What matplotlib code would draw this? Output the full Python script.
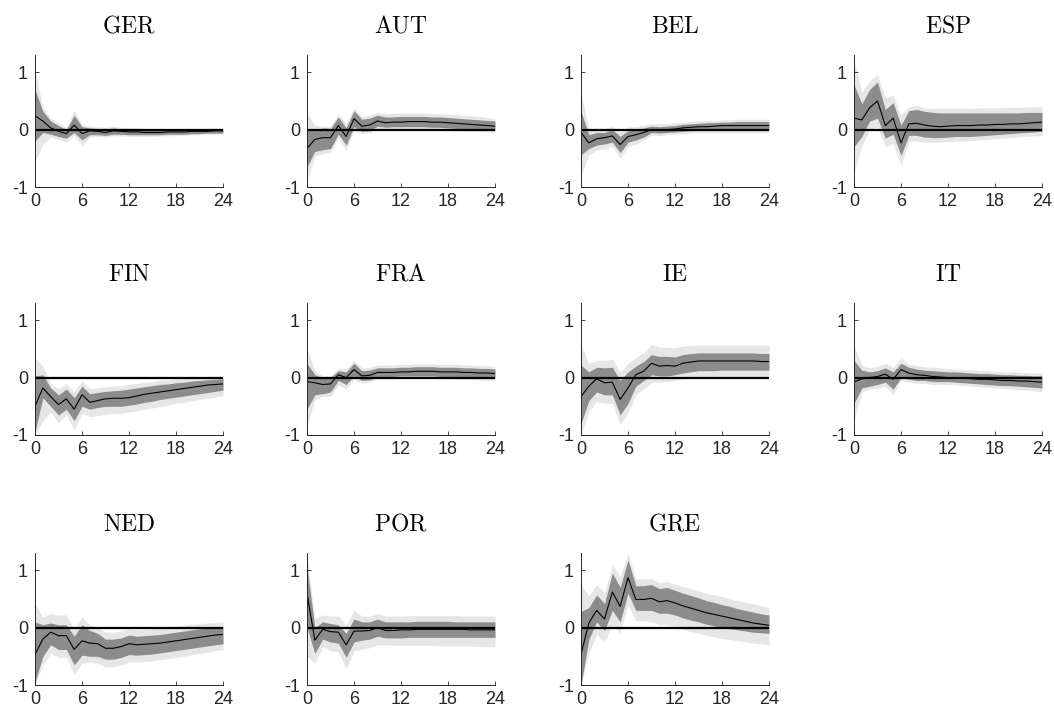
import numpy as np
import matplotlib
matplotlib.use("Agg")
import matplotlib.pyplot as plt

plt.rcParams['mathtext.fontset'] = 'cm'
plt.rcParams['font.family'] = ['Liberation Sans', 'DejaVu Sans']
plt.rcParams['axes.unicode_minus'] = False

horizon = list(range(25))
countries = ["GER", "AUT", "BEL", "ESP", "FIN", "FRA", "IE", "IT", "NED", "POR", "GRE"]

# median responses
GER_med = [0.24, 0.15, 0.03, -0.03, -0.07, 0.08, -0.07, -0.02, -0.03, -0.05, -0.02, -0.03, -0.04,
           -0.04, -0.05, -0.05, -0.05, -0.04, -0.04, -0.04, -0.03, -0.03, -0.03, -0.02, -0.02]
GER_lo68 = [-0.20, -0.05, -0.08, -0.12, -0.15, -0.05, -0.18, -0.09, -0.09, -0.10, -0.08, -0.08, -0.09,
            -0.09, -0.09, -0.09, -0.09, -0.08, -0.08, -0.08, -0.07, -0.07, -0.06, -0.06, -0.06]
GER_hi68 = [0.70, 0.32, 0.15, 0.07, 0.00, 0.25, 0.05, 0.03, 0.02, 0.00, 0.03, 0.01, 0.00,
            0.00, -0.01, -0.01, -0.01, -0.01, 0.00, 0.00, 0.00, 0.00, 0.00, 0.01, 0.01]
GER_lo90 = [-0.56, -0.26, -0.13, -0.17, -0.22, -0.10, -0.28, -0.13, -0.12, -0.13, -0.11, -0.11, -0.12,
            -0.12, -0.12, -0.12, -0.11, -0.11, -0.10, -0.10, -0.09, -0.09, -0.08, -0.08, -0.08]
GER_hi90 = [1.05, 0.38, 0.20, 0.12, 0.04, 0.33, 0.09, 0.06, 0.05, 0.04, 0.06, 0.04, 0.03,
            0.03, 0.02, 0.02, 0.02, 0.02, 0.02, 0.02, 0.02, 0.02, 0.02, 0.03, 0.03]

AUT_med = [-0.33, -0.17, -0.14, -0.14, 0.07, -0.12, 0.19, 0.06, 0.08, 0.15, 0.12, 0.13, 0.13,
           0.14, 0.14, 0.14, 0.13, 0.13, 0.12, 0.11, 0.10, 0.09, 0.08, 0.07, 0.06]
AUT_lo68 = [-0.65, -0.38, -0.35, -0.33, -0.08, -0.27, 0.05, -0.03, -0.02, 0.06, 0.04, 0.05, 0.05,
            0.05, 0.05, 0.05, 0.04, 0.04, 0.03, 0.02, 0.02, 0.01, 0.00, 0.00, -0.01]
AUT_hi68 = [0.00, -0.02, 0.03, 0.02, 0.22, 0.03, 0.33, 0.18, 0.20, 0.25, 0.22, 0.22, 0.23,
            0.23, 0.23, 0.23, 0.22, 0.22, 0.21, 0.20, 0.19, 0.18, 0.17, 0.16, 0.15]
AUT_lo90 = [-0.90, -0.46, -0.42, -0.40, -0.15, -0.35, -0.02, -0.07, -0.05, 0.02, 0.00, 0.00, 0.00,
            0.00, 0.00, 0.00, -0.01, -0.01, -0.02, -0.02, -0.03, -0.03, -0.04, -0.04, -0.05]
AUT_hi90 = [0.28, 0.08, 0.06, 0.06, 0.28, 0.10, 0.38, 0.22, 0.25, 0.30, 0.28, 0.28, 0.29,
            0.29, 0.29, 0.29, 0.28, 0.28, 0.27, 0.26, 0.25, 0.24, 0.23, 0.21, 0.20]

BEL_med = [-0.05, -0.23, -0.16, -0.14, -0.11, -0.26, -0.12, -0.09, -0.05, 0.00, -0.01, 0.00, 0.01,
           0.03, 0.04, 0.05, 0.05, 0.06, 0.07, 0.07, 0.07, 0.07, 0.07, 0.07, 0.07]
BEL_lo68 = [-0.44, -0.33, -0.27, -0.25, -0.22, -0.40, -0.22, -0.18, -0.13, -0.05, -0.06, -0.05, -0.04,
            -0.03, -0.02, -0.01, -0.01, 0.00, 0.00, 0.00, 0.00, 0.00, 0.00, 0.00, 0.00]
BEL_hi68 = [0.32, -0.09, -0.05, -0.05, 0.00, -0.12, -0.02, 0.00, 0.03, 0.06, 0.05, 0.06, 0.07,
            0.09, 0.10, 0.11, 0.12, 0.12, 0.13, 0.13, 0.14, 0.14, 0.14, 0.14, 0.14]
BEL_lo90 = [-0.80, -0.45, -0.35, -0.33, -0.30, -0.50, -0.30, -0.25, -0.18, -0.10, -0.10, -0.09, -0.08,
            -0.07, -0.06, -0.05, -0.05, -0.05, -0.05, -0.05, -0.05, -0.05, -0.05, -0.05, -0.05]
BEL_hi90 = [0.65, 0.00, 0.02, 0.02, 0.05, -0.05, 0.05, 0.05, 0.08, 0.10, 0.10, 0.10, 0.11,
            0.13, 0.14, 0.15, 0.16, 0.16, 0.17, 0.17, 0.18, 0.18, 0.18, 0.18, 0.18]

ESP_med = [0.20, 0.17, 0.38, 0.50, 0.07, 0.20, -0.23, 0.10, 0.11, 0.08, 0.06, 0.05, 0.06,
           0.07, 0.07, 0.07, 0.08, 0.08, 0.09, 0.09, 0.10, 0.10, 0.11, 0.12, 0.13]
ESP_lo68 = [-0.30, -0.12, 0.15, 0.20, -0.15, -0.08, -0.45, -0.10, -0.10, -0.13, -0.14, -0.14, -0.13,
            -0.12, -0.12, -0.12, -0.11, -0.10, -0.09, -0.08, -0.07, -0.06, -0.05, -0.04, -0.03]
ESP_hi68 = [0.78, 0.45, 0.70, 0.83, 0.35, 0.47, 0.08, 0.33, 0.35, 0.32, 0.30, 0.29, 0.29,
            0.29, 0.29, 0.29, 0.29, 0.29, 0.29, 0.29, 0.29, 0.29, 0.30, 0.30, 0.30]
ESP_lo90 = [-0.75, -0.28, 0.00, 0.05, -0.30, -0.25, -0.62, -0.20, -0.20, -0.22, -0.22, -0.22, -0.21,
            -0.20, -0.20, -0.19, -0.18, -0.17, -0.16, -0.15, -0.14, -0.13, -0.12, -0.11, -0.10]
ESP_hi90 = [1.20, 0.65, 0.85, 0.95, 0.55, 0.60, 0.25, 0.40, 0.42, 0.38, 0.37, 0.37, 0.37,
            0.37, 0.37, 0.37, 0.38, 0.38, 0.38, 0.38, 0.39, 0.39, 0.39, 0.40, 0.40]

FIN_med = [-0.50, -0.18, -0.33, -0.47, -0.37, -0.55, -0.30, -0.43, -0.40, -0.37, -0.36, -0.36, -0.35,
           -0.32, -0.29, -0.27, -0.25, -0.23, -0.21, -0.19, -0.17, -0.15, -0.13, -0.12, -0.11]
FIN_lo68 = [-0.95, -0.35, -0.50, -0.65, -0.55, -0.75, -0.50, -0.55, -0.52, -0.50, -0.50, -0.50, -0.48,
            -0.46, -0.43, -0.41, -0.38, -0.36, -0.34, -0.32, -0.30, -0.28, -0.26, -0.24, -0.22]
FIN_hi68 = [0.03, 0.05, -0.18, -0.30, -0.20, -0.35, -0.15, -0.28, -0.26, -0.24, -0.23, -0.22, -0.20,
            -0.18, -0.16, -0.14, -0.12, -0.11, -0.09, -0.08, -0.06, -0.05, -0.04, -0.03, -0.02]
FIN_lo90 = [-1.00, -0.75, -0.60, -0.78, -0.65, -0.92, -0.62, -0.68, -0.66, -0.64, -0.63, -0.62, -0.60,
            -0.58, -0.55, -0.53, -0.50, -0.48, -0.45, -0.43, -0.41, -0.38, -0.36, -0.34, -0.32]
FIN_hi90 = [0.35, 0.20, -0.10, -0.20, -0.10, -0.25, -0.05, -0.20, -0.18, -0.16, -0.15, -0.14, -0.12,
            -0.10, -0.08, -0.07, -0.05, -0.04, -0.02, -0.01, 0.00, 0.01, 0.02, 0.02, 0.03]

FRA_med = [-0.07, -0.09, -0.12, -0.11, 0.05, 0.00, 0.14, 0.03, 0.04, 0.09, 0.09, 0.09, 0.10,
           0.10, 0.11, 0.11, 0.11, 0.10, 0.10, 0.10, 0.09, 0.09, 0.08, 0.08, 0.07]
FRA_lo68 = [-0.55, -0.30, -0.28, -0.25, -0.05, -0.12, 0.03, -0.05, -0.04, 0.02, 0.02, 0.02, 0.03,
            0.03, 0.03, 0.03, 0.03, 0.02, 0.02, 0.02, 0.01, 0.01, 0.00, 0.00, 0.00]
FRA_hi68 = [0.25, 0.05, 0.00, 0.00, 0.12, 0.10, 0.25, 0.12, 0.13, 0.17, 0.17, 0.17, 0.18,
            0.18, 0.19, 0.19, 0.19, 0.18, 0.18, 0.18, 0.17, 0.17, 0.16, 0.16, 0.15]
FRA_lo90 = [-0.85, -0.38, -0.33, -0.33, -0.12, -0.20, -0.03, -0.10, -0.08, -0.02, -0.02, -0.02, -0.01,
            -0.01, -0.01, -0.01, -0.01, -0.02, -0.02, -0.03, -0.03, -0.04, -0.04, -0.05, -0.05]
FRA_hi90 = [0.50, 0.12, 0.03, 0.03, 0.17, 0.15, 0.30, 0.17, 0.18, 0.22, 0.22, 0.22, 0.23,
            0.23, 0.24, 0.24, 0.24, 0.23, 0.23, 0.23, 0.22, 0.22, 0.21, 0.21, 0.20]

IE_med = [-0.33, -0.15, -0.02, -0.09, -0.08, -0.38, -0.18, 0.05, 0.11, 0.25, 0.20, 0.21, 0.20,
          0.25, 0.27, 0.29, 0.29, 0.29, 0.29, 0.29, 0.29, 0.29, 0.29, 0.28, 0.28]
IE_lo68 = [-0.80, -0.40, -0.25, -0.30, -0.30, -0.65, -0.45, -0.15, -0.05, 0.05, 0.03, 0.03, 0.05,
           0.08, 0.10, 0.12, 0.12, 0.12, 0.13, 0.13, 0.13, 0.13, 0.13, 0.13, 0.13]
IE_hi68 = [0.22, 0.10, 0.18, 0.17, 0.18, -0.05, 0.10, 0.20, 0.28, 0.40, 0.37, 0.37, 0.36,
           0.40, 0.42, 0.43, 0.43, 0.43, 0.43, 0.43, 0.43, 0.43, 0.43, 0.42, 0.42]
IE_lo90 = [-1.00, -0.60, -0.42, -0.45, -0.45, -0.82, -0.62, -0.30, -0.20, -0.08, -0.08, -0.07, -0.05,
           -0.02, 0.00, 0.02, 0.02, 0.02, 0.02, 0.02, 0.02, 0.02, 0.02, 0.02, 0.02]
IE_hi90 = [0.57, 0.25, 0.30, 0.30, 0.32, 0.10, 0.25, 0.35, 0.43, 0.58, 0.53, 0.53, 0.52,
           0.55, 0.56, 0.57, 0.57, 0.57, 0.57, 0.57, 0.57, 0.57, 0.57, 0.57, 0.57]

IT_med = [-0.08, -0.02, 0.00, 0.02, 0.06, -0.03, 0.14, 0.08, 0.05, 0.04, 0.02, 0.01, 0.00,
          0.00, -0.01, -0.02, -0.03, -0.03, -0.04, -0.05, -0.05, -0.06, -0.06, -0.07, -0.08]
IT_lo68 = [-0.45, -0.18, -0.15, -0.12, -0.08, -0.20, 0.00, -0.03, -0.05, -0.05, -0.07, -0.07, -0.07,
           -0.08, -0.09, -0.10, -0.11, -0.12, -0.13, -0.14, -0.14, -0.15, -0.16, -0.17, -0.18]
IT_hi68 = [0.30, 0.13, 0.10, 0.12, 0.17, 0.10, 0.25, 0.18, 0.15, 0.13, 0.12, 0.11, 0.10,
           0.10, 0.09, 0.08, 0.07, 0.07, 0.06, 0.05, 0.05, 0.04, 0.04, 0.03, 0.03]
IT_lo90 = [-0.75, -0.25, -0.20, -0.18, -0.15, -0.30, -0.05, -0.08, -0.10, -0.10, -0.12, -0.12, -0.12,
           -0.13, -0.14, -0.15, -0.16, -0.17, -0.18, -0.19, -0.20, -0.21, -0.22, -0.23, -0.25]
IT_hi90 = [0.55, 0.22, 0.17, 0.20, 0.25, 0.18, 0.35, 0.23, 0.21, 0.19, 0.18, 0.17, 0.16,
           0.15, 0.14, 0.13, 0.12, 0.12, 0.11, 0.10, 0.10, 0.09, 0.09, 0.08, 0.08]

NED_med = [-0.47, -0.20, -0.08, -0.14, -0.14, -0.38, -0.23, -0.27, -0.28, -0.36, -0.36, -0.33, -0.28,
           -0.30, -0.29, -0.28, -0.27, -0.25, -0.23, -0.21, -0.19, -0.17, -0.15, -0.13, -0.12]
NED_lo68 = [-0.95, -0.50, -0.30, -0.38, -0.38, -0.65, -0.48, -0.50, -0.50, -0.55, -0.55, -0.52, -0.47,
            -0.48, -0.47, -0.46, -0.44, -0.42, -0.40, -0.38, -0.36, -0.34, -0.32, -0.30, -0.28]
NED_hi68 = [0.10, 0.05, 0.08, 0.05, 0.05, -0.15, 0.05, -0.05, -0.10, -0.20, -0.20, -0.18, -0.13,
            -0.15, -0.14, -0.13, -0.12, -0.10, -0.08, -0.06, -0.04, -0.02, -0.01, 0.01, 0.02]
NED_lo90 = [-1.00, -0.65, -0.45, -0.52, -0.52, -0.82, -0.62, -0.60, -0.62, -0.68, -0.68, -0.65, -0.60,
            -0.60, -0.59, -0.58, -0.56, -0.54, -0.52, -0.50, -0.47, -0.45, -0.43, -0.40, -0.38]
NED_hi90 = [0.42, 0.18, 0.25, 0.22, 0.22, -0.02, 0.18, 0.05, 0.00, -0.08, -0.08, -0.06, -0.02,
            -0.04, -0.03, -0.02, -0.01, 0.01, 0.03, 0.04, 0.06, 0.07, 0.08, 0.09, 0.10]

POR_med = [0.60, -0.22, -0.03, -0.07, -0.08, -0.30, -0.06, -0.06, -0.05, 0.00, -0.05, -0.05, -0.04,
           -0.04, -0.03, -0.03, -0.03, -0.03, -0.03, -0.03, -0.03, -0.04, -0.04, -0.04, -0.04]
POR_lo68 = [0.00, -0.45, -0.20, -0.25, -0.27, -0.52, -0.25, -0.22, -0.20, -0.15, -0.18, -0.18, -0.18,
            -0.17, -0.17, -0.17, -0.17, -0.17, -0.17, -0.17, -0.17, -0.17, -0.17, -0.17, -0.17]
POR_hi68 = [1.05, 0.00, 0.10, 0.07, 0.05, -0.10, 0.15, 0.10, 0.10, 0.15, 0.10, 0.10, 0.10,
            0.10, 0.11, 0.11, 0.11, 0.11, 0.11, 0.10, 0.10, 0.10, 0.10, 0.10, 0.10]
POR_lo90 = [-0.50, -0.62, -0.33, -0.40, -0.42, -0.72, -0.40, -0.38, -0.35, -0.30, -0.30, -0.31, -0.31,
            -0.31, -0.31, -0.31, -0.31, -0.32, -0.32, -0.32, -0.32, -0.32, -0.33, -0.33, -0.33]
POR_hi90 = [1.30, 0.15, 0.22, 0.20, 0.20, 0.05, 0.30, 0.20, 0.20, 0.25, 0.20, 0.20, 0.20,
            0.21, 0.21, 0.21, 0.21, 0.21, 0.21, 0.21, 0.20, 0.20, 0.20, 0.20, 0.20]

GRE_med = [-0.47, 0.08, 0.30, 0.15, 0.62, 0.37, 0.87, 0.49, 0.49, 0.51, 0.45, 0.47, 0.43,
           0.38, 0.34, 0.30, 0.26, 0.23, 0.20, 0.17, 0.14, 0.11, 0.08, 0.06, 0.04]
GRE_lo68 = [-1.00, -0.20, 0.10, -0.05, 0.30, 0.10, 0.60, 0.30, 0.30, 0.30, 0.25, 0.25, 0.22,
            0.17, 0.13, 0.10, 0.06, 0.03, 0.00, -0.02, -0.04, -0.06, -0.08, -0.09, -0.10]
GRE_hi68 = [0.28, 0.35, 0.57, 0.42, 0.95, 0.70, 1.18, 0.73, 0.73, 0.75, 0.68, 0.70, 0.65,
            0.60, 0.56, 0.52, 0.47, 0.44, 0.40, 0.37, 0.33, 0.30, 0.27, 0.24, 0.22]
GRE_lo90 = [-1.00, -0.45, -0.12, -0.25, 0.05, -0.10, 0.40, 0.12, 0.12, 0.10, 0.05, 0.05, 0.02,
            -0.03, -0.07, -0.10, -0.13, -0.16, -0.19, -0.21, -0.23, -0.25, -0.27, -0.28, -0.30]
GRE_hi90 = [0.75, 0.55, 0.75, 0.60, 1.10, 0.90, 1.30, 0.85, 0.85, 0.85, 0.78, 0.80, 0.76,
            0.72, 0.68, 0.64, 0.60, 0.57, 0.54, 0.50, 0.47, 0.44, 0.41, 0.38, 0.35]

data = {
    "GER": (GER_med, GER_lo68, GER_hi68, GER_lo90, GER_hi90),
    "AUT": (AUT_med, AUT_lo68, AUT_hi68, AUT_lo90, AUT_hi90),
    "BEL": (BEL_med, BEL_lo68, BEL_hi68, BEL_lo90, BEL_hi90),
    "ESP": (ESP_med, ESP_lo68, ESP_hi68, ESP_lo90, ESP_hi90),
    "FIN": (FIN_med, FIN_lo68, FIN_hi68, FIN_lo90, FIN_hi90),
    "FRA": (FRA_med, FRA_lo68, FRA_hi68, FRA_lo90, FRA_hi90),
    "IE": (IE_med, IE_lo68, IE_hi68, IE_lo90, IE_hi90),
    "IT": (IT_med, IT_lo68, IT_hi68, IT_lo90, IT_hi90),
    "NED": (NED_med, NED_lo68, NED_hi68, NED_lo90, NED_hi90),
    "POR": (POR_med, POR_lo68, POR_hi68, POR_lo90, POR_hi90),
    "GRE": (GRE_med, GRE_lo68, GRE_hi68, GRE_lo90, GRE_hi90),
}

x_ticks = [0, 6, 12, 18, 24]
y_ticks = [-1, 0, 1]

W, H = 1054, 713
fig = plt.figure(figsize=(W / 100, H / 100), dpi=100)
col_left = [35, 307, 581, 854]
row_top = [55, 303, 553]
ax_w, ax_h = 188, 132

for i, c in enumerate(countries):
    r, k = divmod(i, 4)
    left = col_left[k] / W
    bottom = 1 - (row_top[r] + ax_h) / H
    ax = fig.add_axes([left, bottom, ax_w / W, ax_h / H])
    med, lo68, hi68, lo90, hi90 = data[c]
    ax.fill_between(horizon, lo90, hi90, color='#e6e6e6', lw=0)
    ax.fill_between(horizon, lo68, hi68, color='#8c8c8c', lw=0)
    ax.plot(horizon, med, color='black', lw=0.8)
    ax.axhline(0, color='black', lw=1.6)
    ax.set_xlim(0, 24)
    ax.set_ylim(-1, 1.3)
    ax.set_xticks(x_ticks)
    ax.set_yticks(y_ticks)
    ax.tick_params(direction='in', length=3, width=0.6, labelsize=13, colors='#262626')
    ax.tick_params(axis='x', pad=4)
    ax.tick_params(axis='y', pad=5)
    for s in ['top', 'right']:
        ax.spines[s].set_visible(False)
    for s in ['left', 'bottom']:
        ax.spines[s].set_linewidth(0.7)
        ax.spines[s].set_color('#262626')
    ax.set_title(r'$\mathrm{%s}$' % c, fontsize=17, pad=16)

fig.savefig('out.png', dpi=100)
